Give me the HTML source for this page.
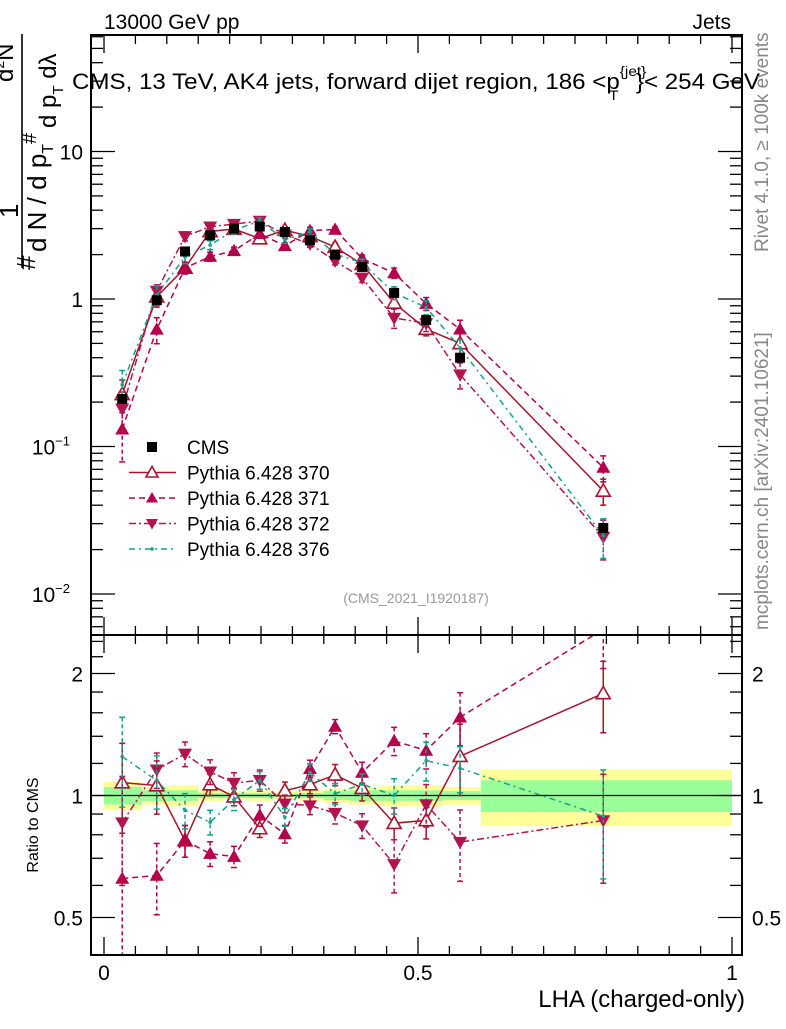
<!DOCTYPE html>
<html><head><meta charset="utf-8"><style>
html,body{margin:0;padding:0;background:#fff;}
svg text{font-family:"Liberation Sans",sans-serif;}
</style></head><body>
<svg id="c" width="786" height="1024" viewBox="0 0 786 1024" xmlns="http://www.w3.org/2000/svg">
<defs>
<clipPath id="clipMain"><rect x="91" y="35" width="651" height="600"/></clipPath>
<clipPath id="clipRatio"><rect x="91" y="635" width="651" height="320"/></clipPath>
</defs>
<g id="bands" clip-path="url(#clipRatio)"></g>
<g id="plot"></g>
<rect x="91" y="35" width="651" height="600" fill="none" stroke="#000" stroke-width="2"/>
<rect x="91" y="635" width="651" height="320" fill="none" stroke="#000" stroke-width="2"/>
<g id="ticks"></g>
<text x="104" y="29" font-size="21">13000 GeV pp</text>
<text x="731" y="29" font-size="21" text-anchor="end">Jets</text>
<text x="72" y="89" font-size="22" textLength="688" lengthAdjust="spacingAndGlyphs">CMS, 13 TeV, AK4 jets, forward dijet region, 186 &lt;p<tspan font-size="14" dy="-13">{jet}</tspan><tspan font-size="14" dx="-34" dy="24">T</tspan><tspan dy="-11" dx="16">}&lt; 254 GeV</tspan></text>
<g font-size="26">
<text transform="translate(35,270) rotate(-90)">#</text>
<text transform="translate(18,218) rotate(-90)">1</text>
<line x1="22" y1="34" x2="22" y2="268" stroke="#000" stroke-width="1.6"/>
<text transform="translate(46,252) rotate(-90)">d N / d p<tspan font-size="16" dy="7">T</tspan></text>
<text transform="translate(36,144) rotate(-90)" font-size="20">#</text>
<text transform="translate(13,82) rotate(-90)" font-size="24">d<tspan font-size="14" dy="-9">2</tspan><tspan dy="9">N</tspan></text>
<text transform="translate(56,128) rotate(-90)" font-size="24">d p<tspan font-size="15" dy="7">T</tspan><tspan dy="-7"> d</tspan>λ</text>
</g>
<text transform="translate(38,825) rotate(-90)" font-size="16" text-anchor="middle">Ratio to CMS</text>
<text x="745" y="1007" font-size="24" text-anchor="end">LHA (charged-only)</text>
<text x="416" y="603" font-size="14" fill="#999" text-anchor="middle">(CMS_2021_I1920187)</text>
<text transform="translate(768,252) rotate(-90)" font-size="19" fill="#888">Rivet 4.1.0, ≥ 100k events</text>
<text transform="translate(768,630) rotate(-90)" font-size="19" fill="#888">mcplots.cern.ch [arXiv:2401.10621]</text>
<g id="legend"></g>
</svg>
<script>
const xs = [0.029,0.084,0.129,0.169,0.207,0.248,0.288,0.328,0.368,0.411,0.462,0.513,0.567,0.795];
const binEdges = [0,0.06,0.1,0.15,0.19,0.23,0.27,0.31,0.35,0.39,0.44,0.49,0.54,0.6,1];
const cms = [0.21,0.98,2.1,2.7,3.0,3.1,2.85,2.5,2.0,1.65,1.1,0.72,0.40,0.028];
const bandYellow = [0.08,0.05,0.06,0.03,0.025,0.03,0.02,0.03,0.04,0.05,0.06,0.06,0.05,0.16];
const bandGreen = [0.05,0.03,0.03,0.015,0.015,0.015,0.01,0.015,0.025,0.03,0.03,0.03,0.025,0.09];
const p370 = [0.226,1.037,1.625,2.873,2.98,2.57,2.93,2.66,2.25,1.72,0.94,0.625,0.50,0.050];
const p371 = [0.131,0.622,1.625,1.94,2.12,2.77,2.29,2.91,2.96,1.88,1.50,0.93,0.624,0.072];
const p372 = [0.180,1.134,2.66,3.09,3.22,3.38,2.72,2.36,1.81,1.39,0.744,0.684,0.307,0.0243];
const p376 = [0.262,1.067,1.93,2.32,2.93,3.38,2.52,2.85,2.02,1.76,1.10,0.878,0.467,0.0249];
const e370 = [0.25,0.15,0.09,0.06,0.05,0.05,0.05,0.05,0.06,0.07,0.09,0.1,0.2,0.2];
const e371 = [0.4,0.2,0.09,0.07,0.06,0.06,0.05,0.05,0.04,0.06,0.08,0.1,0.15,0.2];
const e372 = [0.3,0.1,0.07,0.07,0.06,0.06,0.05,0.05,0.06,0.07,0.15,0.12,0.2,0.3];
const e376 = [0.25,0.15,0.1,0.07,0.06,0.05,0.05,0.05,0.06,0.06,0.1,0.11,0.13,0.3];
const mainTicks = [0.01,0.1,1,10];
const mainTickLabels = ["10","10","1","10"];
const mainTickExp = ["−2","−1","",""];
const ratioTicks = [0.5,1,2];
const ratioTickLabels = ["0.5","1","2"];
const xTicks = [0,0.5,1];
const xTickLabels = ["0","0.5","1"];

const NS="http://www.w3.org/2000/svg";
const X = v => 104 + v*628;
const Y = v => 299 - Math.log10(v)*147.5;
const R = v => 795.5 - Math.log2(v)*122;
function mk(tag, attrs, parent){const e=document.createElementNS(NS,tag);for(const k in attrs)e.setAttribute(k,attrs[k]);parent.appendChild(e);return e;}
const plot=document.getElementById('plot'), bands=document.getElementById('bands'), ticks=document.getElementById('ticks'), legend=document.getElementById('legend');

for(let i=0;i<cms.length;i++){
  const x0=X(binEdges[i]), x1=X(binEdges[i+1]);
  const y=mk('rect',{x:x0,y:R(1+bandYellow[i]),width:x1-x0,height:R(1-bandYellow[i])-R(1+bandYellow[i]),fill:'#ffff99'},bands);
  
  
  const g=mk('rect',{x:x0,y:R(1+bandGreen[i]),width:x1-x0,height:R(1-bandGreen[i])-R(1+bandGreen[i]),fill:'#99ff99'},bands);
  
  
}
const one=mk('line',{x1:91,x2:742,y1:R(1),y2:R(1),stroke:'#000','stroke-width':1.3},bands);



function marker(kind,x,y,color,parent,s){
  s=s||7;
  if(kind==='sq') return mk('rect',{x:x-5,y:y-5,width:10,height:10,fill:'#000'},parent);
  if(kind==='up') return mk('polygon',{points:`${x},${y-s} ${x-s},${y+s*0.75} ${x+s},${y+s*0.75}`,fill:color},parent);
  if(kind==='open') return mk('polygon',{points:`${x},${y-s} ${x-s},${y+s*0.75} ${x+s},${y+s*0.75}`,fill:'#fff',stroke:color,'stroke-width':1.6},parent);
  if(kind==='down') return mk('polygon',{points:`${x},${y+s} ${x-s},${y-s*0.75} ${x+s},${y-s*0.75}`,fill:color},parent);
  return mk('circle',{cx:x,cy:y,r:1.8,fill:color},parent);
}
const series=[
  {name:'pythia-370',vals:p370,err:e370,color:'#a8132a',dash:'',kind:'open'},
  {name:'pythia-371',vals:p371,err:e371,color:'#b5004b',dash:'6,4',kind:'up'},
  {name:'pythia-372',vals:p372,err:e372,color:'#b3134f',dash:'7,3,2,3',kind:'down'},
  {name:'pythia-376',vals:p376,err:e376,color:'#17a08c',dash:'6,4,2,4',kind:'dot'}
];
const gMain=mk('g',{'clip-path':'url(#clipMain)'},plot);
const gRat=mk('g',{'clip-path':'url(#clipRatio)'},plot);
series.forEach(s=>{
  const gm=mk('g',{},gMain);
  
  
  const gr=mk('g',{},gRat);
  
  
  mk('polyline',{points:s.vals.map((v,i)=>X(xs[i])+','+Y(v)).join(' '),fill:'none',stroke:s.color,'stroke-width':1.5,'stroke-dasharray':s.dash},gm);
  mk('polyline',{points:s.vals.map((v,i)=>X(xs[i])+','+R(v/cms[i])).join(' '),fill:'none',stroke:s.color,'stroke-width':1.5,'stroke-dasharray':s.dash},gr);
  s.vals.forEach((v,i)=>{
    const x=X(xs[i]), r=v/cms[i], e=s.err[i];
    [[gm,Y(v*(1+e)),Y(v*(1-e)),Y(v)],[gr,R(r*(1+e)),R(r*(1-e)),R(r)]].forEach(([g,a,b,c])=>{
      mk('line',{x1:x,x2:x,y1:a,y2:b,stroke:s.color,'stroke-width':1.5,'stroke-dasharray':s.dash==''?'':'4,3'},g);
      mk('line',{x1:x-3,x2:x+3,y1:a,y2:a,stroke:s.color,'stroke-width':1.5},g);
      mk('line',{x1:x-3,x2:x+3,y1:b,y2:b,stroke:s.color,'stroke-width':1.5},g);
      const m=marker(s.kind,x,c,s.color,g);
      
      
    });
  });
});
const gc=mk('g',{},gMain);


cms.forEach((v,i)=>{
  const m=marker('sq',X(xs[i]),Y(v),'#000',gc);
  
  
});

function tline(x1,y1,x2,y2){mk('line',{x1,y1,x2,y2,stroke:'#000','stroke-width':1.3},ticks);}
function tlabel(x,y,t,anchor,size,name){const e=mk('text',{x,y,'font-size':size,'text-anchor':anchor},ticks);e.textContent=t;return e;}
for(let d=-3;d<2;d++){for(let k=1;k<10;k++){const v=k*Math.pow(10,d);const y=Y(v);if(y<35||y>635)continue;const L=k===1?24:12;tline(91,y,91+L,y);tline(742,y,742-L,y);}}
mainTicks.forEach((v,i)=>{const t=tlabel(83,Y(v)+8,mainTickLabels[i],'end',21,'y-tick-label');if(mainTickExp[i]){t.setAttribute('x',70);const s=mk('tspan',{'font-size':13,dy:-9},t);s.textContent=mainTickExp[i];}});
[0.5,0.6,0.7,0.8,0.9,1,1.2,1.4,1.6,1.8,2,2.2,2.4].forEach(v=>{const y=R(v);if(y<635||y>955)return;const L=(v===0.5||v===1||v===2)?24:12;tline(91,y,91+L,y);tline(742,y,742-L,y);});
ratioTicks.forEach((v,i)=>{tlabel(83,R(v)+8,ratioTickLabels[i],'end',21,'ratio-tick-label');tlabel(752,R(v)+8,ratioTickLabels[i],'start',21,'ratio-tick-label-right');});
for(let k=0;k<=20;k++){const v=k*0.05;const x=X(v);const L=(k%10===0)?18:9;tline(x,955,x,955-L);tline(x,635,x,635+L);tline(x,35,x,35+L);tline(x,635,x,635-L);}
xTicks.forEach((v,i)=>tlabel(X(v),980,xTickLabels[i],'middle',21,'x-tick-label'));

const leg=[['CMS','sq','#000',''],['Pythia 6.428 370','open','#a8132a',''],['Pythia 6.428 371','up','#b5004b','6,4'],['Pythia 6.428 372','down','#b3134f','7,3,2,3'],['Pythia 6.428 376','dot','#17a08c','6,4,2,4']];
leg.forEach((l,i)=>{
  const y=447+i*25.5;
  const g=mk('g',{},legend);
  
  
  if(i>0) mk('line',{x1:129,x2:176,y1:y,y2:y,stroke:l[2],'stroke-width':1.5,'stroke-dasharray':l[3]},g);
  marker(l[1],152,y,l[2],g,6);
  const t=mk('text',{x:187,y:y+7,'font-size':19},g);t.textContent=l[0];
});
</script>
</body></html>
